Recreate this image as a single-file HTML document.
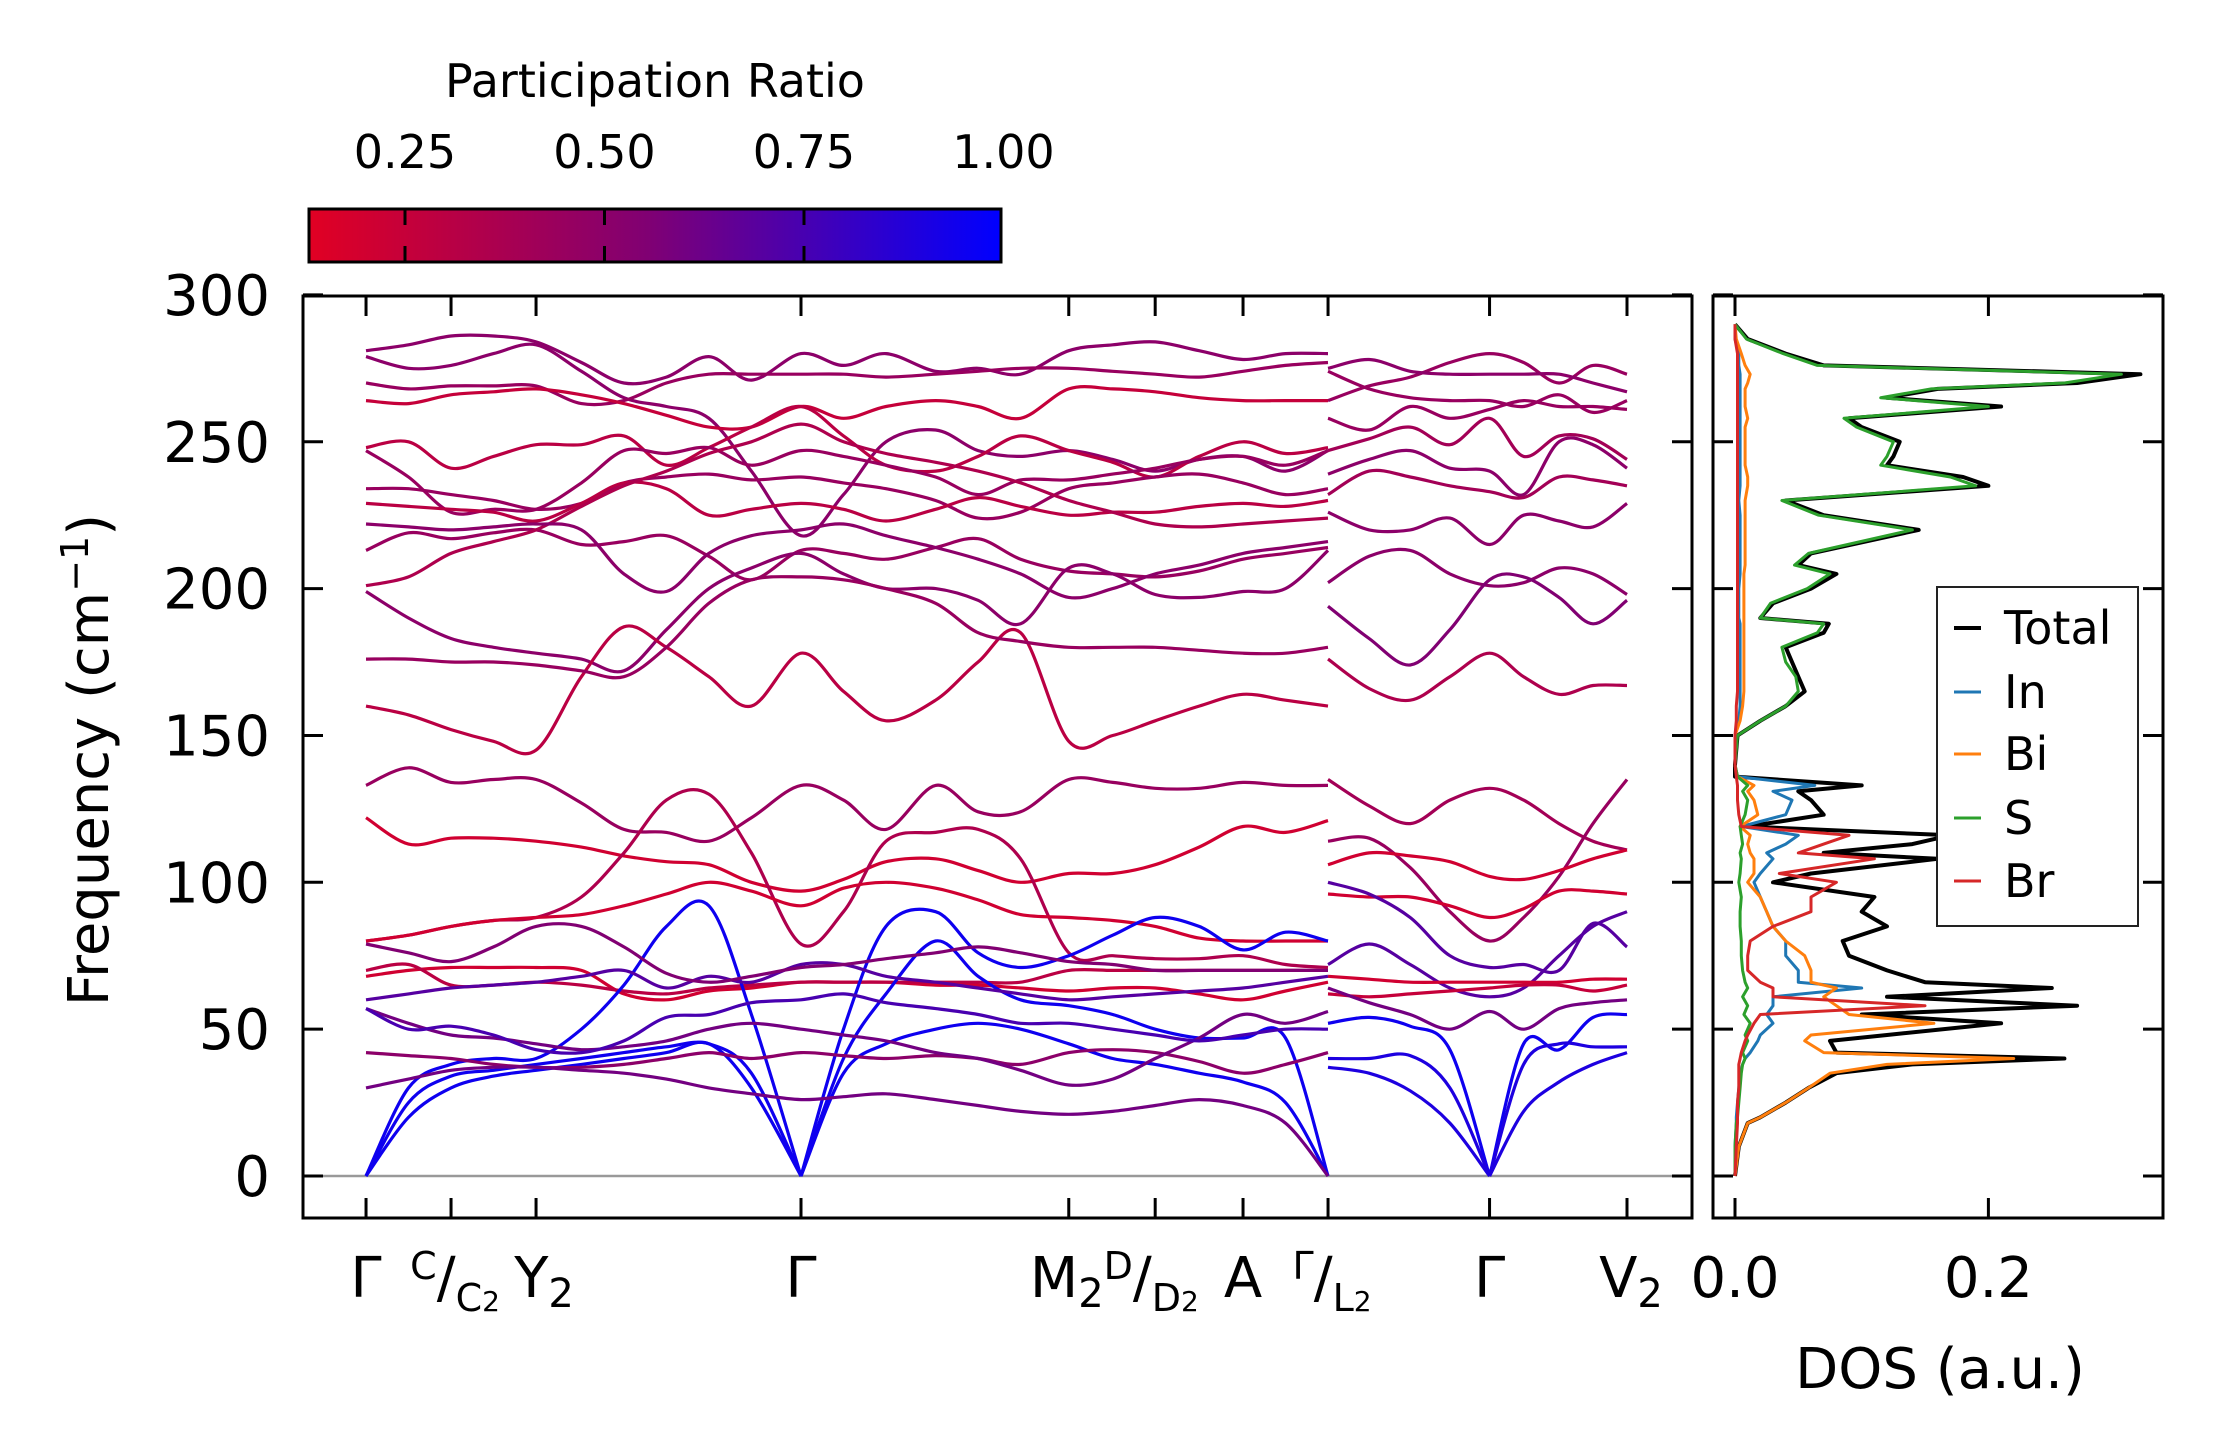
<!DOCTYPE html>
<html><head><meta charset="utf-8"><style>
html,body{margin:0;padding:0;background:#fff}
svg{display:block}
text{font-family:"DejaVu Sans","Liberation Sans",sans-serif;fill:#000}
</style></head><body>
<svg id="fig" width="2222" height="1455" viewBox="0 0 2222 1455" xmlns="http://www.w3.org/2000/svg">
<defs>
<linearGradient id="cbg" x1="0" x2="1" y1="0" y2="0">
<stop offset="0" stop-color="rgb(225,0,35)"/>
<stop offset="0.49" stop-color="rgb(128,0,115)"/>
<stop offset="1" stop-color="rgb(0,0,255)"/>
</linearGradient>
<clipPath id="clipMain"><rect x="303" y="296" width="1389" height="922"/></clipPath>
<clipPath id="clipDos"><rect x="1713" y="296" width="450" height="922"/></clipPath>
</defs>
<g id="colorbar">
<text x="655" y="97" font-size="46" text-anchor="middle">Participation Ratio</text>
<rect x="309" y="209" width="692" height="53" fill="url(#cbg)" stroke="#000" stroke-width="3"/>
</g>
<g id="bands" clip-path="url(#clipMain)"></g>
<g id="dos" clip-path="url(#clipDos)"></g>
<g id="axes"></g>
<text transform="translate(108,760) rotate(-90)" font-size="56" text-anchor="middle">Frequency (cm<tspan font-size="38" dy="-20">−1</tspan><tspan dy="20">)</tspan></text>
<text x="1940" y="1388" font-size="56" text-anchor="middle">DOS (a.u.)</text>
<g id="legend">
<rect x="1937" y="587" width="201" height="339" fill="#fff" stroke="#222" stroke-width="2"/>
</g>
</svg>
<script>
// ---------- data ----------
const kLabels = ["Γ","C/C2","Y2","Γ","M2","D/D2","A","Γ/L2","Γ","V2"];
const kTicks = [258,318,378,565,754,815,877,937,1051,1148];
const gridA = [258,288,318,348,378,410,440,470,500,530,565,595,625,660,690,720,754,785,815,846,877,907,937];
const gridB = [937,966,995,1023,1051,1075,1100,1124,1148];
const yTicks = [0,50,100,150,200,250,300];
const cbTicks = [0.25,0.5,0.75,1.0];
const cbLabels = ["0.25","0.50","0.75","1.00"];

const bandsA = [
[281,283,286,286,284,277,270,272,279,271,280,276,280,274,275,273,281,283,284,281,278,280,280],
[279,275,276,280,283,274,265,262,258,240,218,232,250,254,247,245,247,244,240,244,245,240,247],
[270,268,269,269,269,263,264,270,273,273,273,273,272,273,274,275,275,274,273,272,274,276,277],
[264,263,266,267,268,266,263,259,255,255,262,258,262,264,262,258,268,268,267,265,264,264,264],
[248,250,241,245,249,249,252,242,248,255,262,252,242,240,245,252,247,243,238,245,250,246,248],
[247,238,226,227,227,236,247,246,248,242,247,245,242,238,232,237,237,239,241,244,245,242,247],
[234,234,232,230,227,229,236,238,239,237,238,236,234,230,224,226,234,236,238,239,236,232,234],
[229,228,227,226,223,229,236,234,225,227,229,227,223,227,231,228,225,226,226,228,229,228,230],
[213,219,217,219,220,215,216,218,211,203,213,212,210,214,217,210,206,205,204,206,210,212,214],
[201,204,212,216,220,228,235,240,246,250,256,250,246,243,240,236,230,226,222,221,222,223,224],
[199,190,183,180,178,176,172,186,200,207,212,205,200,200,196,188,207,205,198,197,199,200,213],
[222,221,220,221,222,220,205,199,212,218,220,222,218,214,210,205,197,200,205,208,212,214,216],
[160,157,152,148,145,170,187,180,170,160,178,165,155,162,175,185,148,150,155,160,164,162,160],
[176,176,175,175,174,172,170,180,195,203,204,203,200,195,185,182,180,180,180,179,178,178,180],
[133,139,134,135,135,127,118,117,114,122,133,128,118,133,124,124,135,134,132,132,134,133,133],
[122,113,115,115,114,112,109,107,106,100,97,101,107,108,104,100,103,103,106,112,119,117,121],
[80,82,85,87,88,95,110,128,130,110,79,90,114,117,118,108,76,75,74,74,75,72,71],
[68,70,71,71,71,70,62,60,63,64,66,66,66,65,65,64,63,64,64,62,60,63,66],
[70,72,65,65,66,65,63,62,64,65,66,66,66,66,66,66,70,70,70,70,70,70,70],
[80,82,85,87,88,89,92,96,100,97,92,98,100,98,94,89,88,87,85,81,80,80,80],
[0,30,38,40,40,50,65,85,92,55,0,50,85,90,76,71,75,82,88,85,77,83,80],
[0,20,30,34,36,38,40,42,45,30,0,40,62,80,68,60,58,55,50,47,47,47,0],
[0,25,34,36,38,40,42,44,45,35,0,35,45,50,52,50,45,40,38,35,32,25,0],
[42,41,40,38,37,37,38,40,42,40,42,41,40,41,40,38,42,43,42,39,35,38,42],
[57,52,48,47,45,43,44,46,50,52,50,48,46,42,40,36,31,33,40,47,55,52,56],
[57,50,51,48,43,42,46,54,55,59,60,62,59,57,55,52,52,50,48,46,48,50,50],
[60,62,64,65,66,68,70,64,68,66,72,72,68,66,64,62,60,61,62,63,64,66,68],
[79,76,73,78,85,85,78,69,66,68,71,72,74,76,78,76,73,72,70,70,70,70,70],
[30,33,36,37,37,36,35,33,30,28,26,27,28,26,24,22,21,22,24,26,24,18,0]
];
const prA = [0.5,0.5,0.45,0.25,0.3,0.45,0.45,0.3,0.45,0.35,0.5,0.5,0.3,0.45,0.45,0.2,0.35,0.2,0.3,0.2,0.95,0.95,0.95,0.5,0.6,0.75,0.7,0.55,0.6];

const bandsB = [
[264,269,272,277,280,277,270,276,273],
[275,278,274,273,273,273,273,270,267],
[274,268,265,264,264,262,266,260,264],
[258,254,262,258,261,264,262,262,261],
[247,251,255,249,258,245,252,251,244],
[239,244,247,241,240,232,250,249,241],
[232,240,238,235,233,231,238,237,235],
[226,220,220,224,215,225,223,221,229],
[202,211,213,205,201,202,207,205,198],
[194,183,174,186,203,204,197,188,196],
[176,166,162,170,178,170,164,167,167],
[135,126,120,128,132,128,120,114,111],
[114,115,105,90,80,88,102,120,135],
[106,110,109,107,102,101,104,108,111],
[96,95,95,92,88,91,97,97,96],
[100,96,88,75,71,72,70,86,78],
[72,79,72,64,61,64,75,85,90],
[68,67,66,66,66,66,66,67,67],
[62,61,62,63,64,65,65,63,65],
[64,59,55,50,56,50,57,59,60],
[52,54,51,43,0,45,43,54,55],
[40,40,41,30,0,38,45,44,44],
[37,35,29,18,0,22,32,38,42]
];
const prB = [0.45,0.5,0.45,0.45,0.4,0.5,0.4,0.5,0.5,0.55,0.35,0.4,0.45,0.2,0.2,0.7,0.7,0.2,0.25,0.6,0.95,0.9,0.9];

const dosFreq = [0,10,18,20,25,30,35,38,40,42,46,48,52,55,58,61,64,66,70,75,80,85,90,95,100,103,108,110,113,116,119,123,128,131,133,136,140,150,155,160,165,170,175,180,185,188,190,195,200,205,208,212,220,225,230,235,238,242,245,250,255,258,262,265,268,270,273,276,280,285,290];
const dosTotal = [0,.003,.01,.02,.04,.058,.08,.14,.26,.08,.075,.12,.21,.1,.27,.12,.25,.15,.12,.09,.085,.12,.1,.11,.03,.06,.16,.07,.14,.17,.01,.07,.06,.05,.1,0,0,.002,.02,.04,.055,.05,.045,.04,.07,.074,.02,.03,.06,.08,.05,.06,.145,.07,.04,.2,.18,.12,.125,.13,.1,.09,.21,.12,.16,.27,.32,.07,.04,.01,0];
const dosIn = [0,0,.001,.001,.002,.003,.004,.006,.008,.012,.018,.02,.03,.025,.03,.03,.1,.05,.05,.04,.04,.03,.025,.02,.015,.02,.03,.025,.04,.05,.005,.04,.045,.03,.063,.002,0,0,.003,.004,.004,.004,.004,.004,.004,.004,.003,.003,.003,.004,.004,.004,.004,.004,.003,.004,.004,.004,.004,.004,.004,.004,.004,.004,.004,.004,.004,.003,.003,0,0];
const dosBi = [0,.003,.01,.02,.04,.058,.075,.12,.22,.07,.055,.06,.157,.09,.08,.07,.08,.06,.06,.055,.04,.03,.025,.02,.01,.015,.015,.012,.01,.012,.004,.018,.015,.01,.015,.002,0,0,.004,.006,.007,.007,.007,.007,.007,.007,.007,.007,.007,.007,.008,.008,.008,.008,.008,.01,.01,.008,.008,.008,.008,.01,.008,.008,.008,.01,.012,.008,.005,.001,0];
const dosS = [0,0,.001,.002,.003,.004,.005,.006,.008,.006,.01,.008,.012,.007,.01,.006,.01,.008,.006,.005,.005,.004,.004,.005,.003,.004,.005,.004,.006,.005,.004,.008,.01,.006,.01,.002,0,.002,.02,.04,.05,.048,.04,.037,.065,.07,.02,.028,.057,.075,.047,.058,.14,.066,.037,.19,.17,.115,.12,.125,.096,.086,.2,.115,.155,.26,.305,.065,.038,.009,0];
const dosBr = [0,.001,.002,.002,.002,.003,.003,.003,.004,.005,.008,.01,.015,.02,.15,.03,.03,.02,.01,.01,.012,.03,.06,.06,.08,.035,.11,.05,.07,.09,.005,.003,.002,.002,.002,.001,0,0,.001,.001,.002,.002,.002,.002,.002,.002,.002,.002,.002,.002,.002,.002,.002,.002,.002,.002,.002,.002,.002,.002,.002,.002,.002,.002,.002,.002,.002,.002,.002,0,0];
const dosTickVals = [0.0,0.2];
const dosTickLabels = ["0.0","0.2"];
const legendNames = ["Total","In","Bi","S","Br"];

// ---------- scales ----------
const NS = "http://www.w3.org/2000/svg";
const xK = k => k*1.4168 + 0.5;
const yF = f => 1176 - f*2.937;
const xD = d => 1735 + d*1267;
const xCB = v => 405 + (v-0.25)*798;
function prColor(p){
  const t = Math.max(0,Math.min(1,(p-0.127)/(1-0.127)));
  let r,g=0,b;
  if(t<0.49){const u=t/0.49;r=225+(128-225)*u;b=35+(115-35)*u;}
  else{const u=(t-0.49)/0.51;r=128*(1-u);b=115+(255-115)*u;}
  return `rgb(${Math.round(r)},${g},${Math.round(b)})`;
}
function smoothPath(pts){
  let d = `M${pts[0][0].toFixed(1)},${pts[0][1].toFixed(1)}`;
  for(let i=0;i<pts.length-1;i++){
    const p0=pts[Math.max(0,i-1)],p1=pts[i],p2=pts[i+1],p3=pts[Math.min(pts.length-1,i+2)];
    const c1x=p1[0]+(p2[0]-p0[0])/6,c1y=p1[1]+(p2[1]-p0[1])/6;
    const c2x=p2[0]-(p3[0]-p1[0])/6,c2y=p2[1]-(p3[1]-p1[1])/6;
    d+=` C${c1x.toFixed(1)},${c1y.toFixed(1)} ${c2x.toFixed(1)},${c2y.toFixed(1)} ${p2[0].toFixed(1)},${p2[1].toFixed(1)}`;
  }
  return d;
}
// split at zero-frequency cusps so acoustic branches form sharp V shapes
function cuspPath(pts,vals){
  let d='',seg=[pts[0]];
  for(let j=1;j<pts.length;j++){
    seg.push(pts[j]);
    if(vals[j]===0 && j<pts.length-1){ d+=smoothPath(seg)+' '; seg=[pts[j]]; }
  }
  if(seg.length>1) d+=smoothPath(seg);
  return d;
}
function mk(tag,attrs,parent){const e=document.createElementNS(NS,tag);for(const k in attrs)e.setAttribute(k,attrs[k]);parent.appendChild(e);return e;}

const bandsG = document.getElementById('bands');
const axesG = document.getElementById('axes');
const dosG = document.getElementById('dos');
const legG = document.getElementById('legend');
const cbG = document.getElementById('colorbar');

let zl = mk('line',{x1:303,x2:1692,y1:yF(0),y2:yF(0),stroke:'#999',"stroke-width":2.5},bandsG);



function drawBands(grid,bands,prs,tag){
  bands.forEach((b,i)=>{
    const pts = b.map((f,j)=>[xK(grid[j]),yF(f)]);
    const p = mk('path',{d:cuspPath(pts,b),fill:'none',stroke:prColor(prs[i]),"stroke-width":3.2,"stroke-linejoin":"round"},bandsG);
    
    
  });
}
drawBands(gridA,bandsA,prA,'a');
drawBands(gridB,bandsB,prB,'b');

const dosSeries = [[dosTotal,'#000',4],[dosIn,'#1f77b4',3],[dosBi,'#ff7f0e',3],[dosS,'#2ca02c',3],[dosBr,'#d62728',3]];
dosSeries.forEach((s,i)=>{
  const n=Math.min(s[0].length,dosFreq.length);
  let d='';
  for(let j=0;j<n;j++) d+=(j?'L':'M')+xD(s[0][j]).toFixed(1)+','+yF(dosFreq[j]).toFixed(1);
  const p=mk('path',{d:d,fill:'none',stroke:s[1],"stroke-width":s[2],"stroke-linejoin":"round"},dosG);
  
  
});

let f1=mk('rect',{x:303,y:296,width:1389,height:922,fill:'none',stroke:'#000',"stroke-width":3},axesG);


let f2=mk('rect',{x:1713,y:296,width:450,height:922,fill:'none',stroke:'#000',"stroke-width":3},axesG);



yTicks.forEach(v=>{
  const y=yF(v);
  [[303,323],[1672,1692],[1713,1733],[2143,2163]].forEach(([a,b])=>{
    const t=mk('line',{x1:a,x2:b,y1:y,y2:y,stroke:'#000',"stroke-width":3},axesG);
    
    
  });
  const l=mk('text',{x:270,y:y+20,"font-size":56,"text-anchor":"end"},axesG);
  l.textContent=String(v);
  
  
});
kTicks.forEach((k,i)=>{
  const x=xK(k);
  [[1198,1218],[296,316]].forEach(([a,b])=>{
    const t=mk('line',{x1:x,x2:x,y1:a,y2:b,stroke:'#000',"stroke-width":3},axesG);
    
    
  });
});
function kLabel(x,html,name){
  const t=mk('text',{x:x,y:1297,"font-size":56,"text-anchor":"middle"},axesG);
  t.innerHTML=html;
  
  
}
kLabel(xK(258),'Γ','k-label-gamma-1');
kLabel(xK(318)+4,'<tspan font-size="38" dy="-18">C</tspan><tspan dy="18">/</tspan><tspan font-size="38" dy="14">C<tspan font-size="28">2</tspan></tspan>','k-label-c-c2');
kLabel(xK(378)+8,'Y<tspan font-size="40" dy="10">2</tspan>','k-label-y2');
kLabel(xK(565),'Γ','k-label-gamma-2');
kLabel(xK(754)-2,'M<tspan font-size="40" dy="10">2</tspan>','k-label-m2');
kLabel(xK(815)-4,'<tspan font-size="38" dy="-18">D</tspan><tspan dy="18">/</tspan><tspan font-size="38" dy="14">D<tspan font-size="28">2</tspan></tspan>','k-label-d-d2');
kLabel(xK(877),'A','k-label-a');
kLabel(xK(937)+4,'<tspan font-size="38" dy="-18">Γ</tspan><tspan dy="18">/</tspan><tspan font-size="38" dy="14">L<tspan font-size="28">2</tspan></tspan>','k-label-gamma-l2');
kLabel(xK(1051),'Γ','k-label-gamma-3');
kLabel(xK(1148)+4,'V<tspan font-size="40" dy="10">2</tspan>','k-label-v2');

dosTickVals.forEach((v,i)=>{
  const x=xD(v);
  [[1198,1218],[296,316]].forEach(([a,b])=>{
    const t=mk('line',{x1:x,x2:x,y1:a,y2:b,stroke:'#000',"stroke-width":3},axesG);
    
    
  });
  const l=mk('text',{x:x,y:1297,"font-size":56,"text-anchor":"middle"},axesG);
  l.textContent=dosTickLabels[i];
  
  
});

cbTicks.forEach((v,i)=>{
  const x=xCB(v);
  if(v<1){
    [[209,225],[246,262]].forEach(([a,b])=>{
      const t=mk('line',{x1:x,x2:x,y1:a,y2:b,stroke:'#000',"stroke-width":3},cbG);
      
      
    });
  }
  const l=mk('text',{x:x,y:168,"font-size":46,"text-anchor":"middle"},cbG);
  l.textContent=cbLabels[i];
  
  
});

const legY=[628,692,754,818,881];
dosSeries.forEach((s,i)=>{
  const ln=mk('line',{x1:1954,x2:1981,y1:legY[i],y2:legY[i],stroke:s[1],"stroke-width":s[2]},legG);
  
  
  const t=mk('text',{x:2004,y:legY[i]+16,"font-size":46},legG);
  t.textContent=legendNames[i];
  
  
});
</script>
</body></html>
